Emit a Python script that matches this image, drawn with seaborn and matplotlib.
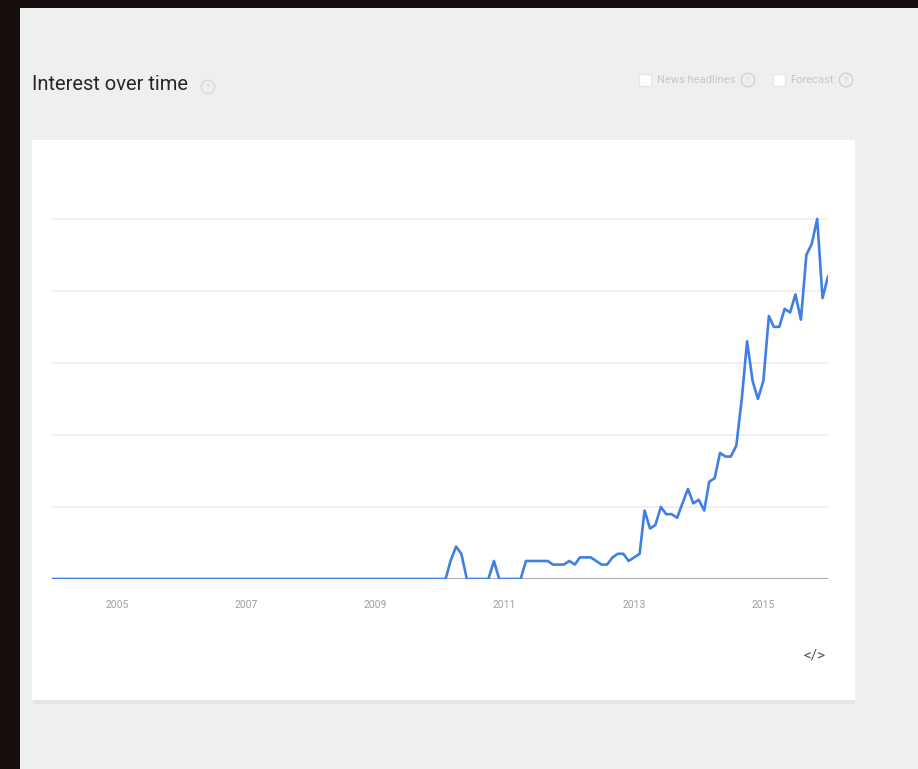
"""Google Trends style 'Interest over time' chart."""
import matplotlib
matplotlib.use("Agg")
import matplotlib.pyplot as plt
import matplotlib.dates as mdates
from matplotlib.patches import Rectangle
import pandas as pd
import seaborn as sns

# monthly points, Jan 2004 .. Jan 2016
months = pd.date_range("2004-01-01", periods=145, freq="MS")
interest = (
    [0] * 74
    + [5, 9, 7, 0, 0, 0, 0, 0, 5, 0, 0, 0, 0, 0,
       5, 5, 5, 5, 5, 4, 4, 4, 5, 4, 6, 6, 6, 5, 4, 4,
       6, 7, 7, 5, 6, 7, 19, 14, 15, 20, 18, 18, 17, 21,
       25, 21, 22, 19, 27, 28, 35, 34, 34, 37, 50, 66, 55, 50,
       55, 73, 70, 70, 75, 74, 79, 72, 90, 93, 100, 78, 84]
)
tick_years = [2005, 2007, 2009, 2011, 2013, 2015]
grid_levels = [20, 40, 60, 80, 100]

df = pd.DataFrame({"month": months, "interest": interest})

W, H = 918, 769
sns.set_style("white")
plt.rcParams["font.family"] = ["Roboto", "DejaVu Sans"]


def fx(px):
    return px / W


def fy(py):
    return 1 - py / H


fig = plt.figure(figsize=(W / 100, H / 100), dpi=100, facecolor="#160e0c")
# grey page panel
fig.patches.append(Rectangle((fx(20), 0), 1 - fx(20), fy(8), transform=fig.transFigure,
                             facecolor="#efefef", edgecolor="none", zorder=0))
# card shadow + white card
fig.patches.append(Rectangle((fx(33), fy(704)), fx(855 - 33), (700 - 140) / H,
                             transform=fig.transFigure, facecolor="#e4e4e4",
                             edgecolor="none", zorder=0))
fig.patches.append(Rectangle((fx(32), fy(700)), fx(855 - 32), (700 - 140) / H,
                             transform=fig.transFigure, facecolor="white",
                             edgecolor="none", zorder=0))

ax = fig.add_axes([fx(52), fy(579), fx(828 - 52), (579 - 190) / H], zorder=3)
ax.set_facecolor("none")
sns.lineplot(data=df, x="month", y="interest", ax=ax, color="#3f7fe6",
             linewidth=1.9, zorder=3)
ax.axhline(0, color="#9a9a9a", linewidth=1.2, zorder=2)

ax.set_xlim(pd.Timestamp("2004-01-01"), pd.Timestamp("2016-01-01"))
ax.set_ylim(0, 108)
ax.set_yticks(grid_levels)
ax.set_yticklabels([])
ax.yaxis.grid(True, color="#ececec", linewidth=1.2)
ax.xaxis.grid(False)
ax.set_xticks([pd.Timestamp(f"{y}-01-01") for y in tick_years])
ax.xaxis.set_major_formatter(mdates.DateFormatter("%Y"))
ax.tick_params(axis="x", length=0, pad=15, labelsize=7.5, labelcolor="#a0a0a0")
ax.tick_params(axis="y", length=0)
ax.set_xlabel("")
ax.set_ylabel("")
for s in ax.spines.values():
    s.set_visible(False)

# header
fig.text(fx(32), fy(84), "Interest over time", fontsize=14.5, color="#262626",
         va="center", ha="left")
fig.text(fx(208), fy(87), "?", fontsize=6, color="#cccccc", va="center", ha="center",
         bbox=dict(boxstyle="circle,pad=0.45", facecolor="none", edgecolor="#d8d8d8"))
fig.patches.append(Rectangle((fx(639), fy(86)), fx(12), 12 / H, transform=fig.transFigure,
                             facecolor="white", edgecolor="#e6e6e6", zorder=1))
fig.text(fx(657), fy(80), "News headlines", fontsize=8, color="#c8c8c8",
         va="center", ha="left")
fig.text(fx(748), fy(80), "?", fontsize=6, color="#cfcfcf", va="center", ha="center",
         bbox=dict(boxstyle="circle,pad=0.45", facecolor="none", edgecolor="#d2d2d2"))
fig.patches.append(Rectangle((fx(773), fy(86)), fx(12), 12 / H, transform=fig.transFigure,
                             facecolor="white", edgecolor="#e6e6e6", zorder=1))
fig.text(fx(790), fy(80), "Forecast", fontsize=8, color="#c8c8c8",
         va="center", ha="left")
fig.text(fx(846), fy(80), "?", fontsize=6, color="#cfcfcf", va="center", ha="center",
         bbox=dict(boxstyle="circle,pad=0.45", facecolor="none", edgecolor="#d2d2d2"))

# embed icon
fig.text(fx(814), fy(656), "</>", fontsize=11, color="#555555", va="center", ha="center")

fig.savefig("out.png", dpi=100, facecolor=fig.get_facecolor())
